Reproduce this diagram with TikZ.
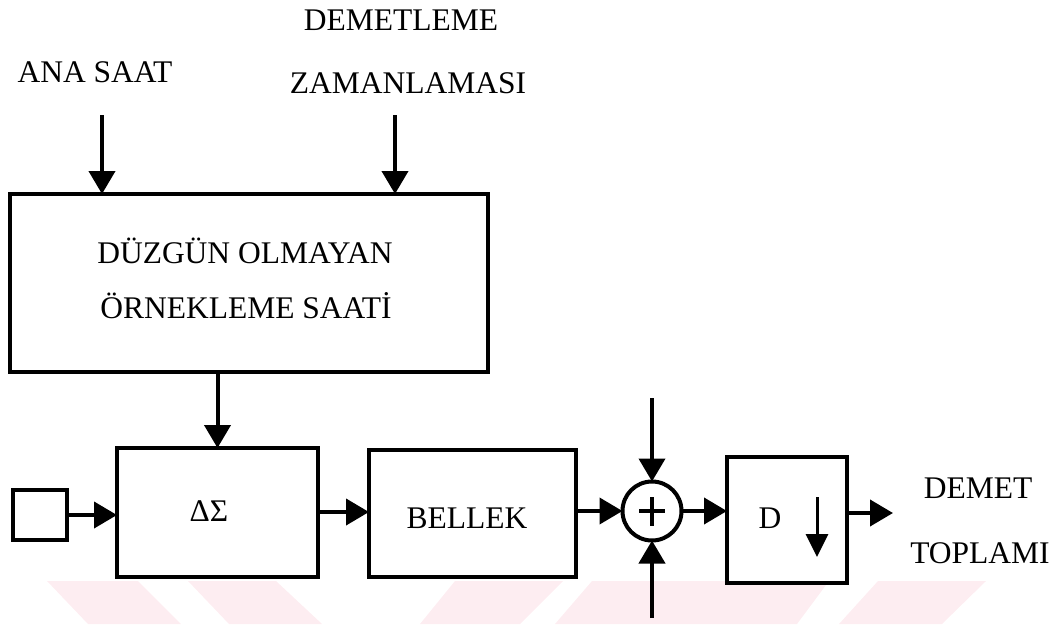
\documentclass[tikz,border=0pt]{standalone}
\usepackage{fontspec}
\setmainfont{Liberation Serif}
\usetikzlibrary{arrows.meta}
\definecolor{wmpink}{RGB}{253,237,241}
\begin{document}
\begin{tikzpicture}[x=1pt,y=-1pt,
  every node/.style={font=\fontsize{31.5}{36}\selectfont},
  blk/.style={draw, rectangle, line width=4pt, inner sep=0pt, outer sep=0pt},
  lbl/.style={inner sep=0pt, outer sep=0pt, anchor=base},
  flow/.style={line width=4pt, -{Triangle[length=23pt,width=26pt]}},
  stripe/.style={fill=wmpink, draw=none}]
\useasboundingbox (0,0) rectangle (1063,624);

% faint background stripes along the lower edge
\fill[stripe] (47,581) -- (138,581) -- (181,624) -- (88,624) -- cycle;
\fill[stripe] (188,581) -- (276,581) -- (322,624) -- (229,624) -- cycle;
\fill[stripe] (455,581) -- (563,581) -- (520,624) -- (420,624) -- cycle;
\fill[stripe] (592,581) -- (829,581) -- (797,624) -- (555,624) -- cycle;
\fill[stripe] (878,581) -- (986,581) -- (942,624) -- (839,624) -- cycle;

% input labels
\node[lbl] (lclk) at (95,82) {ANA SAAT};
\node[lbl] (ltim1) at (401,30) {DEMETLEME};
\node[lbl] (ltim2) at (408,93) {ZAMANLAMASI};

% blocks
\node[blk, minimum width=478pt, minimum height=178pt] (clk) at (249,283) {};
\node[lbl] (clkt1) at (245,263) {DÜZGÜN OLMAYAN};
\node[lbl] (clkt2) at (246,318) {ÖRNEKLEME SAATİ};

\node[blk, minimum width=54pt, minimum height=50pt] (src) at (40,515) {};
\node[blk, minimum width=201pt, minimum height=129pt] (ds) at (217.5,512.5) {};
\node[lbl] (dst) at (209,521) {ΔΣ};
\node[blk, minimum width=207pt, minimum height=127pt] (mem) at (472.5,513.5) {};
\node[lbl] (memt) at (467,528) {BELLEK};
\node[draw, circle, line width=4pt, minimum size=59pt, inner sep=0pt, outer sep=0pt] (sum) at (652,511) {};
\node[blk, minimum width=120pt, minimum height=126pt] (dec) at (787,520) {};
\node[lbl] (dect) at (770,528) {D};

% output label
\node[lbl] (lout1) at (978,498) {DEMET};
\node[lbl] (lout2) at (980,563) {TOPLAMI};

% plus sign in the adder
\draw[line width=4pt] ([xshift=-13pt]sum.center) -- ([xshift=13pt]sum.center);
\draw[line width=4pt] ([yshift=14pt]sum.center) -- ([yshift=-15pt]sum.center);

% down-sampling arrow inside the D block
\coordinate (dtop) at (817,497);
\coordinate (dbot) at (817,557);
\draw[line width=3pt, -{Triangle[length=23pt,width=22pt]}] (dtop) -- (dbot);

% connections
\coordinate (inA) at (102,115);
\coordinate (inB) at (395,115);
\draw[flow] (inA) -- (inA |- clk.north);
\draw[flow] (inB) -- (inB |- clk.north);
\draw[flow] (clk.south -| ds.north) -- (ds.north);
\draw[flow] (src.east) -- (src.east -| ds.west);
\draw[flow] (ds.east |- 0,512) -- (mem.west |- 0,512);
\draw[flow] (mem.east |- sum.west) -- (sum.west);
\coordinate (sTop) at (652,398);
\coordinate (sBot) at (652,618);
\draw[flow] (sTop) -- (sum.north);
\draw[flow] (sBot) -- (sum.south);
\draw[flow] (sum.east) -- (sum.east -| dec.west);
\coordinate (out) at (893,513);
\draw[flow] (out -| dec.east) -- (out);
\end{tikzpicture}
\end{document}
